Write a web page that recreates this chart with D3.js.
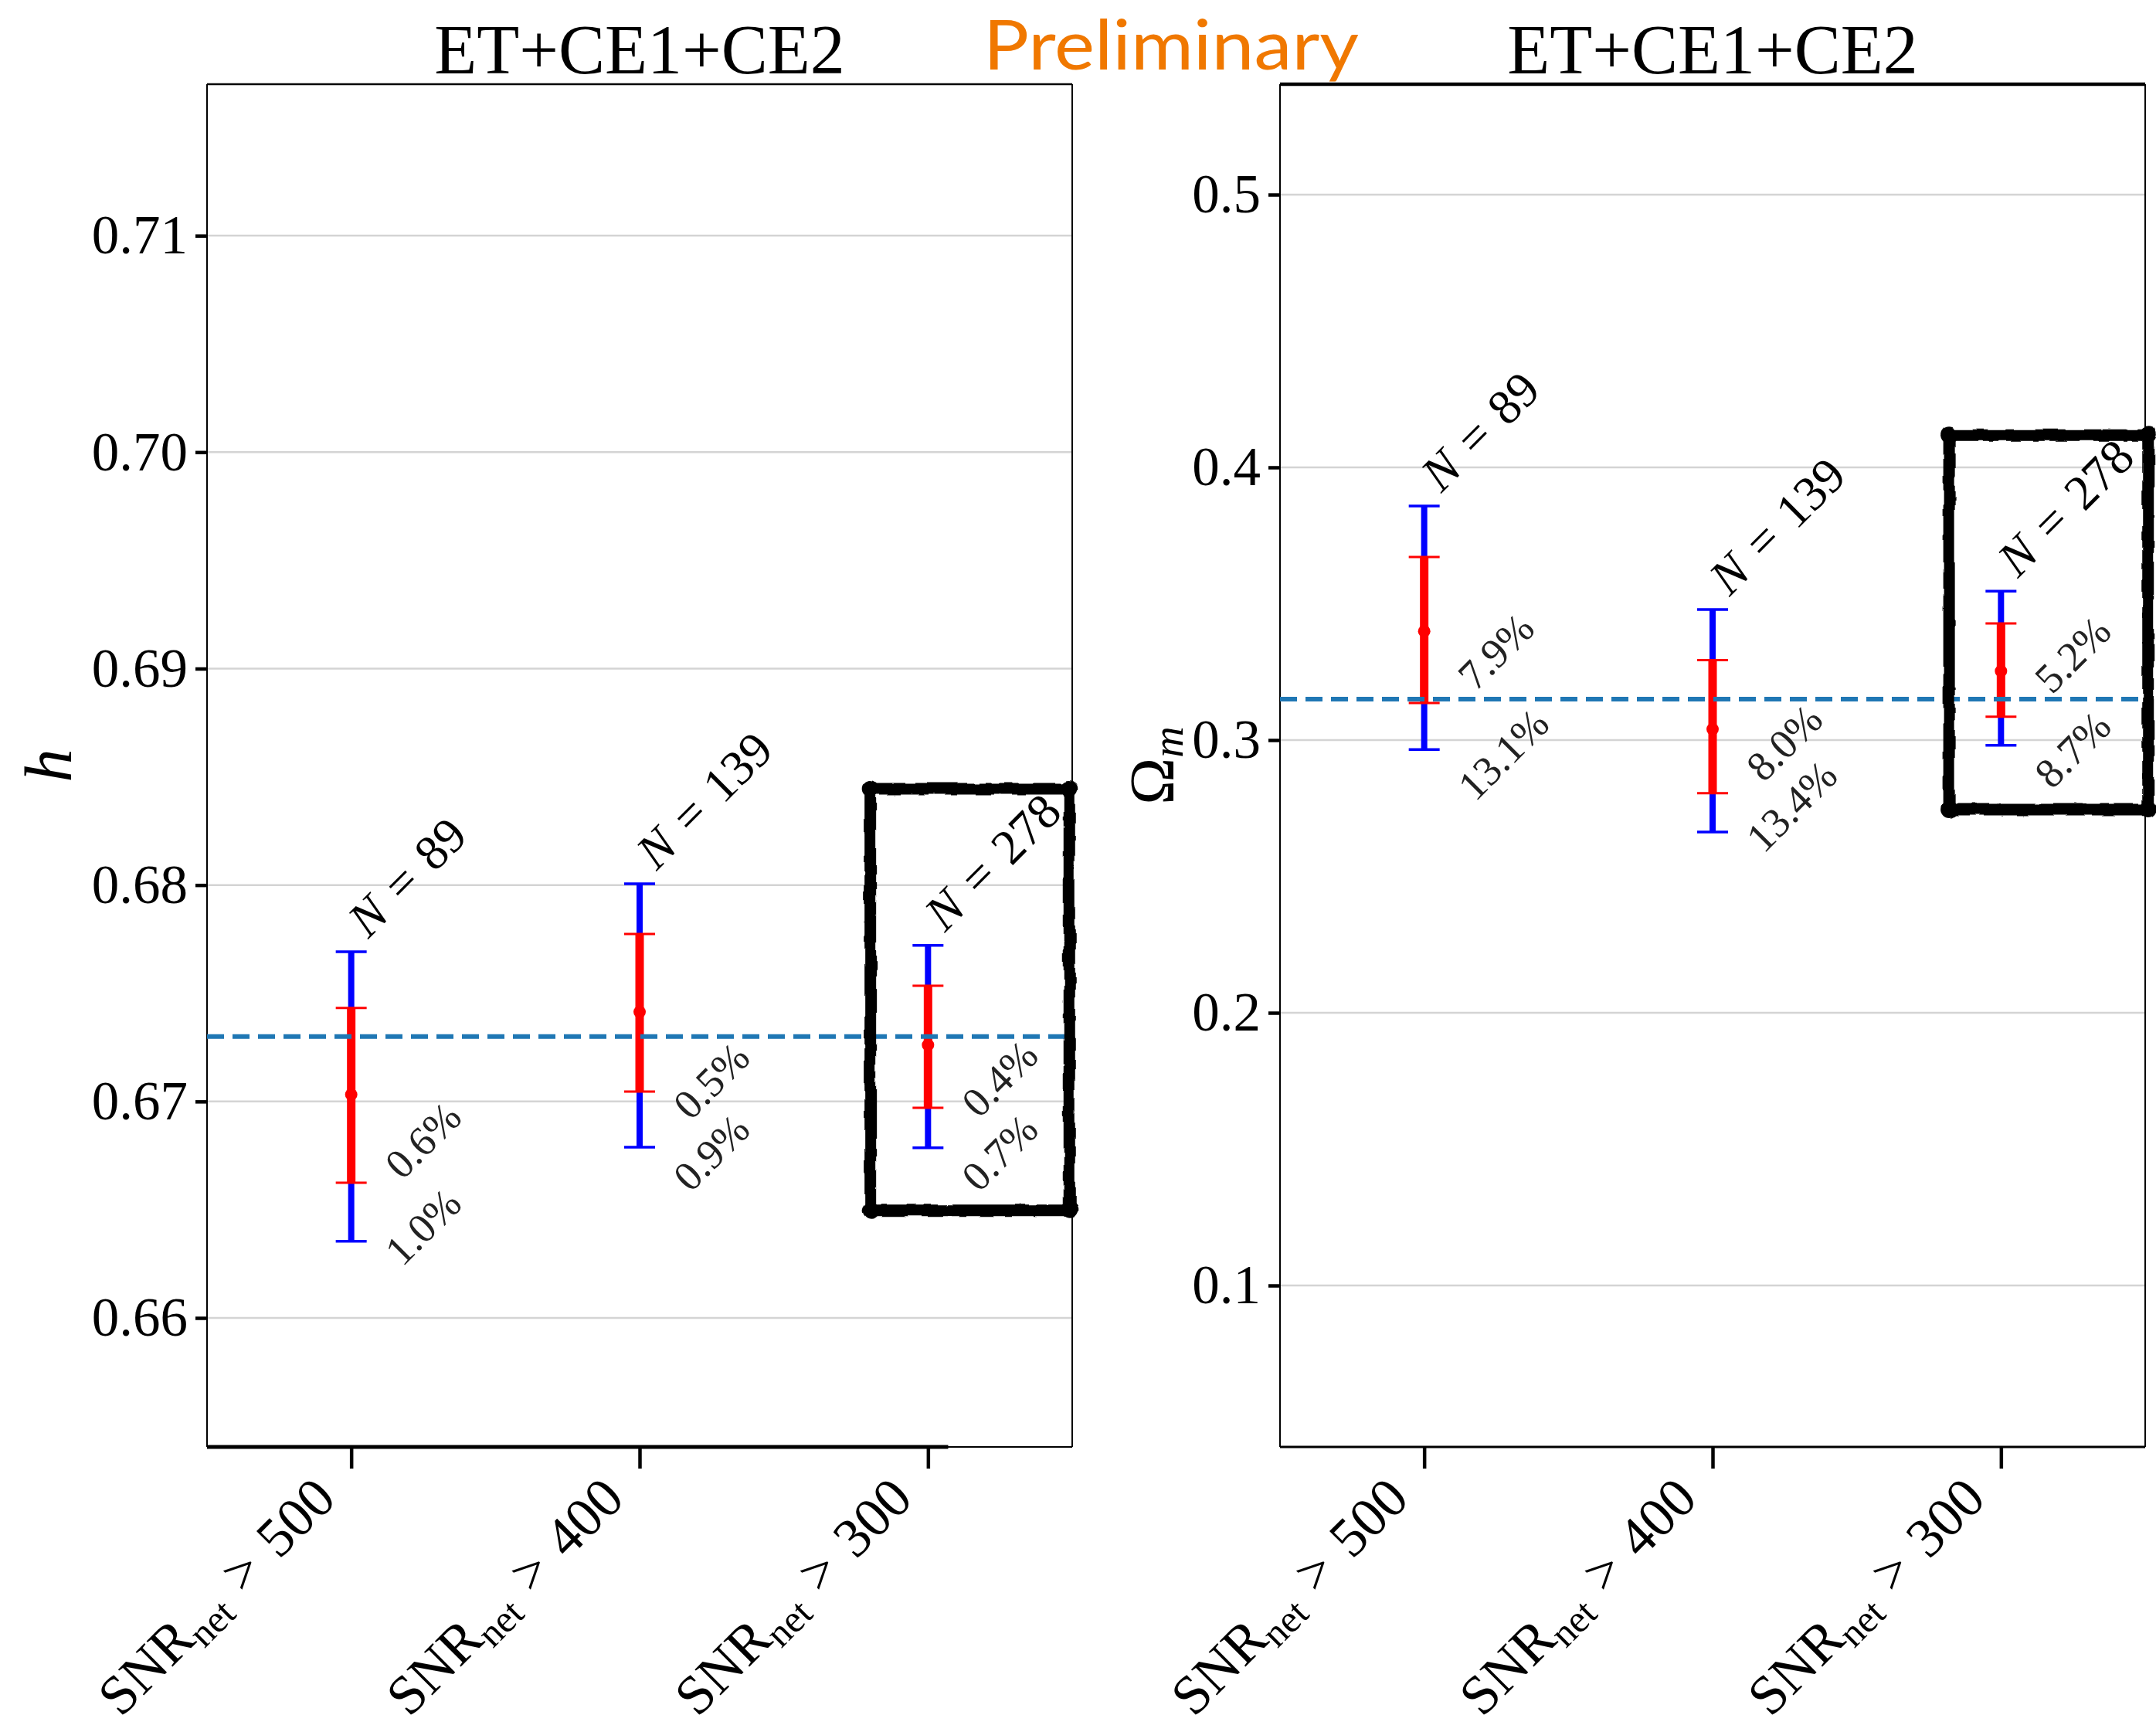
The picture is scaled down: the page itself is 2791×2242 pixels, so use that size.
<!DOCTYPE html>
<html>
<head>
<meta charset="utf-8">
<script src="https://cdn.jsdelivr.net/npm/d3@7"></script>
<style>
  body { margin: 0; background: #fff; }
  svg { display: block; }
</style>
</head>
<body>
<svg id="chart" width="2791" height="2242"></svg>
<script>
// ---- data ----
var snrCuts = ['500', '400', '300'];
var nEvents = [89, 139, 278];

// Hubble parameter h
var hMean    = [0.67032, 0.67414, 0.67261];
var hRedHi   = [0.67432, 0.67774, 0.67535];
var hRedLo   = [0.66625, 0.67046, 0.66971];
var hBlueHi  = [0.67692, 0.68006, 0.67721];
var hBlueLo  = [0.66354, 0.66789, 0.66786];
var hRedPct  = ['0.6%', '0.5%', '0.4%'];
var hBluePct = ['1.0%', '0.9%', '0.7%'];
var hRedPctAt  = [0.66654, 0.66929, 0.66939];
var hBluePctAt = [0.66254, 0.66597, 0.66597];
var hTrue = 0.673;
var hTicks = [0.66, 0.67, 0.68, 0.69, 0.70, 0.71];
var hLimits = [0.65404, 0.717];
var hBox = {x: [1.80, 2.49], y: [0.68445, 0.66497]};

// matter density Omega_m
var omMean    = [0.3399, 0.3040, 0.3253];
var omRedHi   = [0.3671, 0.3293, 0.3428];
var omRedLo   = [0.3136, 0.2805, 0.3086];
var omBlueHi  = [0.3858, 0.3479, 0.3546];
var omBlueLo  = [0.2965, 0.2663, 0.2981];
var omRedPct  = ['7.9%', '8.0%', '5.2%'];
var omBluePct = ['13.1%', '13.4%', '8.7%'];
var omRedPctAt  = [0.3192, 0.2858, 0.3181];
var omBluePctAt = [0.2788, 0.2598, 0.2833];
var omTrue = 0.315;
var omTicks = [0.1, 0.2, 0.3, 0.4, 0.5];
var omLimits = [0.0408, 0.5405];
var omBox = {x: [1.82, 2.51], y: [0.4118, 0.2745]};

// ---- layout ----
var serif = "'Liberation Serif', 'Times New Roman', serif";
var plotTop = 109, plotBottom = 1873, plotW = 1120;
var svg = d3.select('#chart');

var defs = svg.append('defs');
var rough = defs.append('filter').attr('id', 'rough')
    .attr('x', '-10%').attr('y', '-10%').attr('width', '120%').attr('height', '120%');
rough.append('feTurbulence').attr('type', 'fractalNoise')
    .attr('baseFrequency', 0.035).attr('numOctaves', 2).attr('seed', 4).attr('result', 'noise');
rough.append('feDisplacementMap').attr('in', 'SourceGraphic').attr('in2', 'noise')
    .attr('scale', 6).attr('xChannelSelector', 'R').attr('yChannelSelector', 'G');

/**
 * Draws one panel: grid, axes, nested error bars, labels and highlight box.
 */
var drawPanel = function(p) {
    var x = d3.scaleLinear().domain([-0.5, 2.5]).range([p.left, p.left + plotW]);
    var y = d3.scaleLinear().domain(p.limits).range([plotBottom, plotTop]);
    var g = svg.append('g');

    // Horizontal grid lines at the y ticks.
    g.selectAll('.grid').data(p.ticks).enter().append('line')
        .attr('x1', p.left).attr('x2', p.left + plotW)
        .attr('y1', function(d) { return y(d); }).attr('y2', function(d) { return y(d); })
        .style('stroke', '#d4d4d4').style('stroke-width', 2.5);

    // Y axis ticks and labels.
    var ya = g.append('g').attr('transform', 'translate(' + p.left + ',0)')
        .call(d3.axisLeft(y).tickValues(p.ticks).tickSize(15).tickPadding(10).tickFormat(p.fmt));
    ya.select('.domain').remove();
    ya.selectAll('.tick line').style('stroke', '#000').style('stroke-width', 4.5);
    ya.selectAll('.tick text').style('font-family', serif).style('font-size', '71px').style('fill', '#000');

    // X axis ticks.
    var xa = g.append('g').attr('transform', 'translate(0,' + plotBottom + ')')
        .call(d3.axisBottom(x).tickValues([0, 1, 2]).tickSize(28).tickFormat(''));
    xa.select('.domain').remove();
    xa.selectAll('.tick line').style('stroke', '#000').style('stroke-width', 4.5);

    // Rotated x tick labels: SNR_net > cut
    snrCuts.forEach(function(c, i) {
        var t = g.append('text')
            .attr('transform', 'translate(' + (x(i) - 17) + ',' + (plotBottom + 70) + ') rotate(-45)')
            .style('text-anchor', 'end').style('font-family', serif).style('font-size', '72px');
        t.append('tspan').text('SNR');
        t.append('tspan').attr('dy', 13).style('font-size', '50px').text('net');
        t.append('tspan').attr('dy', -13).text('\u2004>\u2004' + c);
    });

    // Spines.
    var sp = g.append('g').style('stroke', '#000').style('fill', 'none');
    sp.append('line').attr('x1', p.left).attr('x2', p.left).attr('y1', plotTop).attr('y2', plotBottom).style('stroke-width', 2);
    sp.append('line').attr('x1', p.left + plotW).attr('x2', p.left + plotW).attr('y1', plotTop).attr('y2', plotBottom).style('stroke-width', 2);
    sp.append('line').attr('x1', p.left).attr('x2', p.left + plotW).attr('y1', plotTop).attr('y2', plotTop).style('stroke-width', p.topWidth);
    sp.append('line').attr('x1', p.left).attr('x2', p.left + plotW).attr('y1', plotBottom).attr('y2', plotBottom).style('stroke-width', p.bottomWidth);
    if (p.baseEnd !== undefined) {
        sp.append('line').attr('x1', p.left).attr('x2', x(p.baseEnd))
            .attr('y1', plotBottom).attr('y2', plotBottom).style('stroke-width', 5);
    }

    // Error bars: wide blue interval, red interval on top.
    var cap = 20;
    var bars = g.selectAll('.bar').data(p.mean).enter().append('g').attr('class', 'bar');
    bars.append('line')
        .attr('x1', function(d, i) { return x(i); }).attr('x2', function(d, i) { return x(i); })
        .attr('y1', function(d, i) { return y(p.blueLo[i]); }).attr('y2', function(d, i) { return y(p.blueHi[i]); })
        .style('stroke', '#0000ff').style('stroke-width', 8);
    [p.blueLo, p.blueHi].forEach(function(arr) {
        bars.append('line')
            .attr('x1', function(d, i) { return x(i) - cap; }).attr('x2', function(d, i) { return x(i) + cap; })
            .attr('y1', function(d, i) { return y(arr[i]); }).attr('y2', function(d, i) { return y(arr[i]); })
            .style('stroke', '#0000ff').style('stroke-width', 3.5);
    });
    bars.append('line')
        .attr('x1', function(d, i) { return x(i); }).attr('x2', function(d, i) { return x(i); })
        .attr('y1', function(d, i) { return y(p.redLo[i]); }).attr('y2', function(d, i) { return y(p.redHi[i]); })
        .style('stroke', '#ff0000').style('stroke-width', 11);
    [p.redLo, p.redHi].forEach(function(arr) {
        bars.append('line')
            .attr('x1', function(d, i) { return x(i) - cap; }).attr('x2', function(d, i) { return x(i) + cap; })
            .attr('y1', function(d, i) { return y(arr[i]); }).attr('y2', function(d, i) { return y(arr[i]); })
            .style('stroke', '#ff0000').style('stroke-width', 3);
    });
    bars.append('circle')
        .attr('cx', function(d, i) { return x(i); }).attr('cy', function(d) { return y(d); })
        .attr('r', 8).style('fill', '#ff0000');

    // Reference value (dashed).
    g.append('line')
        .attr('x1', p.left).attr('x2', p.left + plotW)
        .attr('y1', y(p.truth)).attr('y2', y(p.truth))
        .style('stroke', '#1f77b4').style('stroke-width', 6).style('stroke-dasharray', '22,11');

    // N labels above each bar.
    nEvents.forEach(function(n, i) {
        var t = g.append('text')
            .attr('transform', 'translate(' + (x(i) + 22) + ',' + (y(p.blueHi[i]) - 16) + ') rotate(-45)')
            .style('font-family', serif).style('font-size', '64px');
        t.append('tspan').style('font-style', 'italic').text('N');
        t.append('tspan').text('\u2004=\u2004' + n);
    });

    // Relative uncertainty labels.
    [[p.redPct, p.redPctAt], [p.bluePct, p.bluePctAt]].forEach(function(pair) {
        pair[0].forEach(function(s, i) {
            g.append('text')
                .attr('transform', 'translate(' + (x(i) + 66) + ',' + (y(pair[1][i]) + 6) + ') rotate(-45)')
                .style('font-family', serif).style('font-size', '54px').style('fill', '#222')
                .text(s);
        });
    });

    // Title.
    g.append('text')
        .attr('x', p.left + plotW / 2).attr('y', 95)
        .style('text-anchor', 'middle').style('font-family', serif).style('font-size', '90px')
        .text('ET+CE1+CE2');

    // Y label.
    var yl = g.append('text')
        .attr('transform', 'translate(' + p.labelX + ',' + ((plotTop + plotBottom) / 2) + ') rotate(-90)')
        .style('text-anchor', 'middle').style('font-family', serif).style('font-size', p.labelSize + 'px');
    yl.append('tspan').style('font-style', p.labelItalic ? 'italic' : 'normal').text(p.label);
    if (p.labelSub) {
        yl.append('tspan').attr('dy', 12).style('font-style', 'italic').style('font-size', '56px').text(p.labelSub);
    }

    // Hand-drawn highlight box around the SNR > 300 result.
    var bx0 = x(p.box.x[0]), bx1 = x(p.box.x[1]), by0 = y(p.box.y[0]), by1 = y(p.box.y[1]);
    var hb = g.append('g').attr('filter', 'url(#rough)');
    hb.append('rect')
        .attr('x', bx0).attr('y', by0).attr('width', bx1 - bx0).attr('height', by1 - by0)
        .attr('rx', 8)
        .style('fill', 'none').style('stroke', '#000').style('stroke-width', 15);
    hb.selectAll('.corner').data([[bx0, by0], [bx1, by0], [bx0, by1], [bx1, by1]]).enter().append('circle')
        .attr('cx', function(d) { return d[0]; }).attr('cy', function(d) { return d[1]; })
        .attr('r', 11).style('fill', '#000');
};

drawPanel({
    left: 268, limits: hLimits, ticks: hTicks, fmt: d3.format('.2f'),
    mean: hMean, redLo: hRedLo, redHi: hRedHi, blueLo: hBlueLo, blueHi: hBlueHi,
    redPct: hRedPct, bluePct: hBluePct, redPctAt: hRedPctAt, bluePctAt: hBluePctAt,
    truth: hTrue, box: hBox, topWidth: 2.5, bottomWidth: 2, baseEnd: 2.07,
    label: 'h', labelItalic: true, labelSize: 86, labelX: 92
});

drawPanel({
    left: 1657, limits: omLimits, ticks: omTicks, fmt: d3.format('.1f'),
    mean: omMean, redLo: omRedLo, redHi: omRedHi, blueLo: omBlueLo, blueHi: omBlueHi,
    redPct: omRedPct, bluePct: omBluePct, redPctAt: omRedPctAt, bluePctAt: omBluePctAt,
    truth: omTrue, box: omBox, topWidth: 4.5, bottomWidth: 3,
    label: '\u03a9', labelSub: 'm', labelItalic: false, labelSize: 82, labelX: 1519
});

// Overlay stamp.
svg.append('text')
    .attr('x', 1516).attr('y', 90)
    .attr('textLength', 486).attr('lengthAdjust', 'spacingAndGlyphs')
    .style('text-anchor', 'middle').style('font-family', 'Lato, "Open Sans", sans-serif')
    .style('font-size', '90px').style('fill', '#f07800')
    .text('Preliminary');
</script>
</body>
</html>
